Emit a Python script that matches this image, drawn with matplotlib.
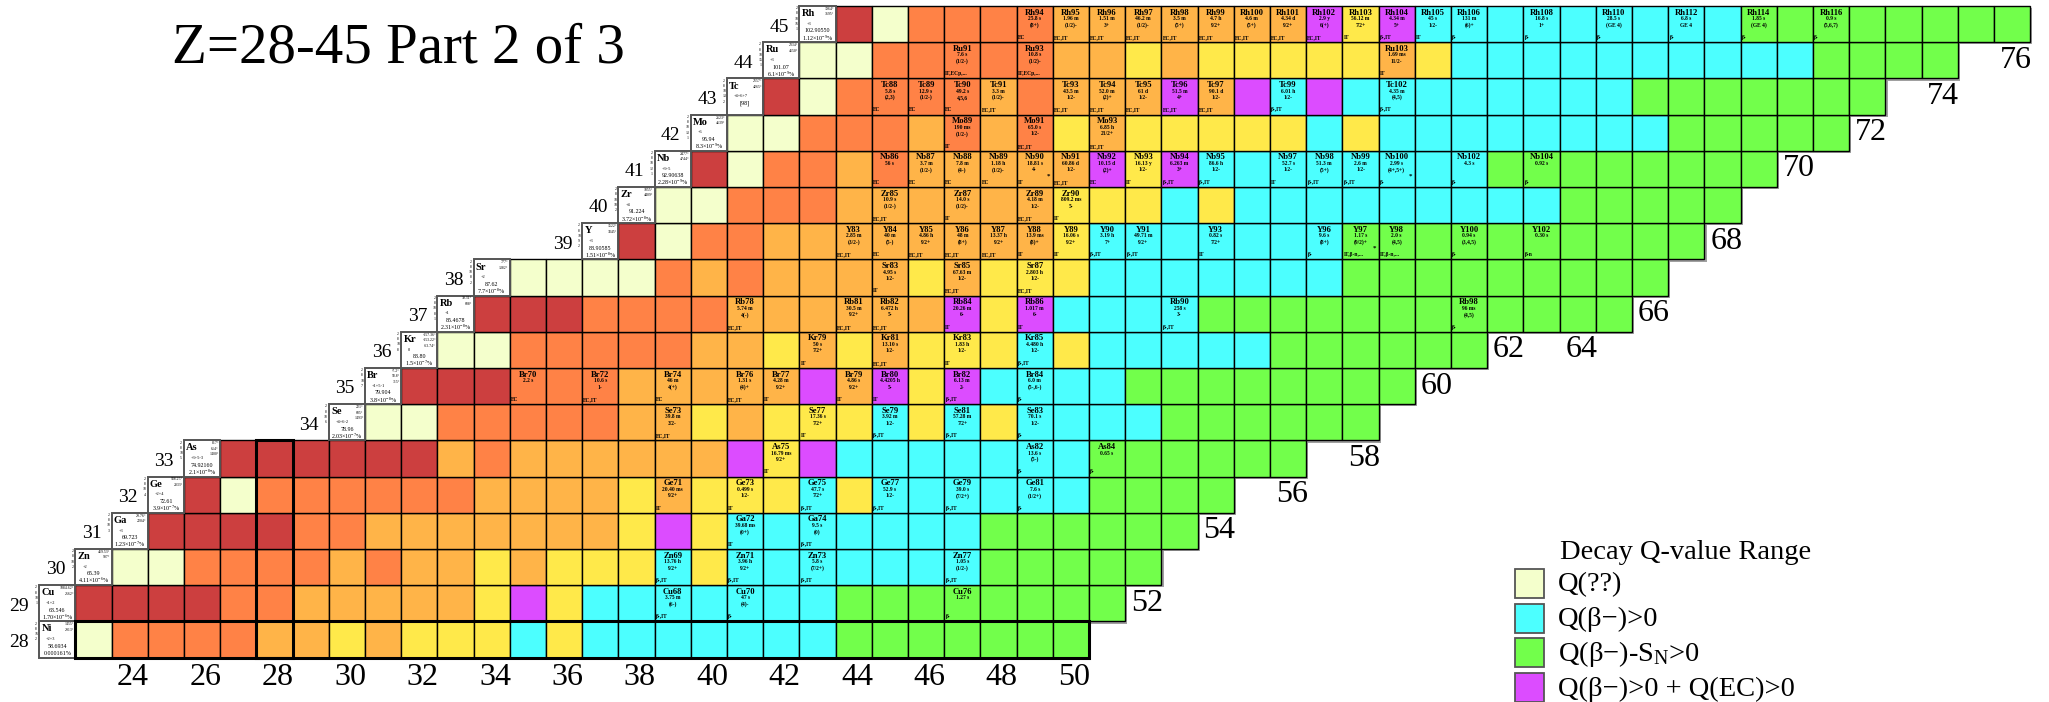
import matplotlib
matplotlib.use('Agg')
import matplotlib.pyplot as plt
from matplotlib.patches import Rectangle

plt.rcParams['font.family'] = ['Liberation Serif', 'DejaVu Serif']
plt.rcParams['mathtext.fontset'] = 'custom'
plt.rcParams['mathtext.rm'] = 'Liberation Serif'
plt.rcParams['mathtext.it'] = 'Liberation Serif:italic'
plt.rcParams['mathtext.bf'] = 'Liberation Serif:bold'

# %% data: one row per element (Z), cells start right after the element box
z_values = list(range(28, 46))
symbols = ['Ni', 'Cu', 'Zn', 'Ga', 'Ge', 'As', 'Se', 'Br', 'Kr',
           'Rb', 'Sr', 'Y', 'Zr', 'Nb', 'Mo', 'Tc', 'Ru', 'Rh']
box_n = [22, 22, 23, 24, 25, 26, 30, 31, 32, 33, 34, 37, 38, 39, 40, 41, 42, 43]
row_end = [50, 51, 52, 53, 54, 56, 58, 59, 61, 65, 66, 67, 68, 69, 71, 72, 74, 76]

# decay Q-value class of every cell, one letter per neutron number (spaces ignored)
# u=Q(??)  r/o/l/y=proton side classes  c=Q(b-)>0  g=Q(b-)-Sn>0  m=Q(b-)>0+Q(EC)>0
row_codes = [
    'u oooo ll y l yyy c y ccccccc ggggggg',            # Ni
    'rrrr oo lllll y m y ccccccc gggggggg',             # Cu
    'uu oooo l o ll y l yyy c y ccccccc ggggg',         # Zn
    'rrrr oo lllllll y m y ccccccc gggggg',             # Ga
    'r u oooooo llll y l yyy c y cccccc gggg',          # Ge
    'rrrrrr l o llllll m y m ccccccc gggggg',           # As
    'uu ooooo ll y l yyy c y c y cccc gggggg',          # Se
    'rrr ooo lllll m l m y m cccc gggggggg',            # Br
    'uu ooooo ll y l y l yyy c y ccccc gggggg',         # Kr
    'rrr oooo llllll m y m cccc gggggggggggg',          # Rb
    'uuuu o l o llll y l yyy ccccccc ggggggggg',        # Sr
    'r u oo llllllll y ccccccc gggggggggg',             # Y
    'uu ooo llllll yyy c y ccccccccc ggggg',            # Zr
    'r u oo l o lllll m y m cccccccc gggggggg',         # Nb
    'uu ooo l o l o y l yyyyy c y cccccccc ggggg',      # Mo
    'r u oooo l o lll m l m c m cccccccc ggggggg',      # Tc
    'uu ooooo ll y l yyyyy l y cccccccccc gggg',        # Ru
    'r u oooo lllllll m y m ccccccccc gggggggg',        # Rh
]

shells = ['2 8 16 2', '2 8 18 1', '2 8 18 2', '2 8 18 3', '2 8 18 4', '2 8 18 5',
          '2 8 18 6', '2 8 18 7', '2 8 18 8', '2 8 18 8 1', '2 8 18 8 2',
          '2 8 18 9 2', '2 8 18 10 2', '2 8 18 12 1', '2 8 18 13 1',
          '2 8 18 13 2', '2 8 18 15 1', '2 8 18 16 1']
temps = ['1455°|2913°', '1084.62°|2562°', '419.53°|907°', '29.76°|2204°',
         '938.25°|2833°', '817°|614°|1400°', '221°|685°|1493°', '-7.2°|58.8°|315°',
         '-157.36°|-153.22°|-63.74°', '39.31°|688°', '777°|1382°', '1522°|3345°',
         '1855°|4409°', '2477°|4744°', '2623°|4639°', '2157°|4265°', '2334°|4150°',
         '1964°|3695°']
oxidation = ['+2+3', '+1+2', '+2', '+3', '+2+4', '+3+5-3', '+4+6-2', '+1+5-1', '0',
             '+1', '+2', '+3', '+4', '+3+5', '+6', '+4+6+7', '+3', '+3']
weights = ['58.6934', '63.546', '65.39', '69.723', '72.61', '74.92160', '78.96',
           '79.904', '83.80', '85.4678', '87.62', '88.90585', '91.224', '92.90638',
           '95.94', '[98]', '101.07', '102.90550']
abundance = [r'0.000161%', r'1.70$\times$10$^{-6}$%', r'4.11$\times$10$^{-6}$%',
             r'1.23$\times$10$^{-7}$%', r'3.9$\times$10$^{-7}$%', r'2.1$\times$10$^{-8}$%',
             r'2.03$\times$10$^{-7}$%', r'3.8$\times$10$^{-8}$%', r'1.5$\times$10$^{-7}$%',
             r'2.31$\times$10$^{-8}$%', r'7.7$\times$10$^{-8}$%', r'1.51$\times$10$^{-8}$%',
             r'3.72$\times$10$^{-8}$%', r'2.28$\times$10$^{-9}$%', r'8.3$\times$10$^{-9}$%',
             '', r'6.1$\times$10$^{-9}$%', r'1.12$\times$10$^{-9}$%']

# isomer cells: name, half-life, spin, decay mode
isomer_cells = [
    ('Cu68', '3.75 m', '(6-)', 'β-,IT'), ('Cu70', '47 s', '(4)-', 'β-'), ('Cu76', '1.27 s', '', 'β-'),
    ('Zn69', '13.76 h', '9/2+', 'β-,IT'), ('Zn71', '3.96 h', '9/2+', 'β-,IT'),
    ('Zn73', '5.8 s', '(7/2+)', 'β-,IT'), ('Zn77', '1.05 s', '(1/2-)', 'β-,IT'),
    ('Ga72', '39.68 ms', '(0+)', 'IT'), ('Ga74', '9.5 s', '(0)', 'β-,IT'),
    ('Ge71', '20.40 ms', '9/2+', 'IT'), ('Ge73', '0.499 s', '1/2-', 'IT'),
    ('Ge75', '47.7 s', '7/2+', 'β-,IT'), ('Ge77', '52.9 s', '1/2-', 'β-,IT'),
    ('Ge79', '39.0 s', '(7/2+)', 'β-,IT'), ('Ge81', '7.6 s', '(1/2+)', 'β-'),
    ('As75', '16.79 ms', '9/2+', 'IT'), ('As82', '13.6 s', '(5-)', 'β-'), ('As84', '0.65 s', '', 'β-'),
    ('Se73', '39.8 m', '3/2-', 'EC,IT'), ('Se77', '17.36 s', '7/2+', 'IT'),
    ('Se79', '3.92 m', '1/2-', 'β-,IT'), ('Se81', '57.28 m', '7/2+', 'β-,IT'),
    ('Se83', '70.1 s', '1/2-', 'β-'),
    ('Br70', '2.2 s', '', 'EC'), ('Br72', '10.6 s', '1-', 'EC,IT'), ('Br74', '46 m', '4(+)', 'EC'),
    ('Br76', '1.31 s', '(4)+', 'EC,IT'), ('Br77', '4.28 m', '9/2+', 'IT'),
    ('Br79', '4.86 s', '9/2+', 'IT'), ('Br80', '4.4205 h', '5-', 'IT'),
    ('Br82', '6.13 m', '2-', 'β-,IT'), ('Br84', '6.0 m', '(5-,6-)', 'β-'),
    ('Kr79', '50 s', '7/2+', 'IT'), ('Kr81', '13.10 s', '1/2-', 'EC,IT'),
    ('Kr83', '1.83 h', '1/2-', 'IT'), ('Kr85', '4.480 h', '1/2-', 'β-,IT'),
    ('Rb78', '5.74 m', '4(-)', 'EC,IT'), ('Rb81', '30.5 m', '9/2+', 'EC,IT'),
    ('Rb82', '6.472 h', '5-', 'EC,IT'), ('Rb84', '20.26 m', '6-', 'IT'),
    ('Rb86', '1.017 m', '6-', 'IT'), ('Rb90', '258 s', '3-', 'β-,IT'), ('Rb98', '96 ms', '(4,5)', 'β-'),
    ('Sr83', '4.95 s', '1/2-', 'IT'), ('Sr85', '67.63 m', '1/2-', 'EC,IT'),
    ('Sr87', '2.803 h', '1/2-', 'EC,IT'),
    ('Y83', '2.85 m', '(3/2-)', 'EC,IT'), ('Y84', '40 m', '(5-)', 'EC'),
    ('Y85', '4.86 h', '9/2+', 'EC,IT'), ('Y86', '48 m', '(8+)', 'EC,IT'),
    ('Y87', '13.37 h', '9/2+', 'EC,IT'), ('Y88', '13.9 ms', '(8)+', 'IT'),
    ('Y89', '16.06 s', '9/2+', 'IT'), ('Y90', '3.19 h', '7+', 'β-,IT'),
    ('Y91', '49.71 m', '9/2+', 'β-,IT'), ('Y93', '0.82 s', '7/2+', 'IT'),
    ('Y96', '9.6 s', '(8+)', 'β-'), ('Y97', '1.17 s', '(9/2)+', 'IT,β-n,...'),
    ('Y98', '2.0 s', '(4,5)', 'IT,β-n,...'), ('Y100', '0.94 s', '(3,4,5)', 'β-'),
    ('Y102', '0.30 s', '', 'β-n'),
    ('Zr85', '10.9 s', '(1/2-)', 'EC,IT'), ('Zr87', '14.0 s', '(1/2)-', 'IT'),
    ('Zr89', '4.18 m', '1/2-', 'EC,IT'), ('Zr90', '809.2 ms', '5-', 'IT'),
    ('Nb86', '56 s', '', 'EC'), ('Nb87', '3.7 m', '(1/2-)', 'EC'), ('Nb88', '7.8 m', '(4-)', 'EC'),
    ('Nb89', '1.18 h', '(1/2)-', 'EC'), ('Nb90', '18.81 s', '4-', 'IT'),
    ('Nb91', '60.86 d', '1/2-', 'EC,IT'), ('Nb92', '10.15 d', '(2)+', 'EC'),
    ('Nb93', '16.13 y', '1/2-', 'IT'), ('Nb94', '6.263 m', '3+', 'β-,IT'),
    ('Nb95', '86.6 h', '1/2-', 'β-,IT'), ('Nb97', '52.7 s', '1/2-', 'IT'),
    ('Nb98', '51.3 m', '(5+)', 'β-,IT'), ('Nb99', '2.6 m', '1/2-', 'β-,IT'),
    ('Nb100', '2.99 s', '(4+,5+)', 'β-'), ('Nb102', '4.3 s', '', 'β-'), ('Nb104', '0.92 s', '', 'β-'),
    ('Mo89', '190 ms', '(1/2-)', 'IT'), ('Mo91', '65.0 s', '1/2-', 'EC,IT'),
    ('Mo93', '6.85 h', '21/2+', 'EC,IT'),
    ('Tc88', '5.8 s', '(2,3)', 'EC'), ('Tc89', '12.9 s', '(1/2-)', 'EC'), ('Tc90', '49.2 s', '4,5,6', 'EC'),
    ('Tc91', '3.3 m', '(1/2)-', 'EC,IT'), ('Tc93', '43.5 m', '1/2-', 'EC,IT'),
    ('Tc94', '52.0 m', '(2)+', 'EC,IT'), ('Tc95', '61 d', '1/2-', 'EC,IT'),
    ('Tc96', '51.5 m', '4+', 'EC,IT'), ('Tc97', '90.1 d', '1/2-', 'EC,IT'),
    ('Tc99', '6.01 h', '1/2-', 'β-,IT'), ('Tc102', '4.35 m', '(4,5)', 'β-,IT'),
    ('Ru91', '7.6 s', '(1/2-)', 'IT,ECp,...'), ('Ru93', '10.8 s', '(1/2)-', 'IT,ECp,...'),
    ('Ru103', '1.69 ms', '11/2-', 'IT'),
    ('Rh94', '25.8 s', '(8+)', 'EC'), ('Rh95', '1.96 m', '(1/2)-', 'EC,IT'),
    ('Rh96', '1.51 m', '3+', 'EC,IT'), ('Rh97', '46.2 m', '(1/2)-', 'EC,IT'),
    ('Rh98', '3.5 m', '(5+)', 'EC,IT'), ('Rh99', '4.7 h', '9/2+', 'EC,IT'),
    ('Rh100', '4.6 m', '(5+)', 'EC,IT'), ('Rh101', '4.34 d', '9/2+', 'EC,IT'),
    ('Rh102', '2.9 y', '6(+)', 'EC,IT'), ('Rh103', '56.12 m', '7/2+', 'IT'),
    ('Rh104', '4.34 m', '5+', 'β-,IT'), ('Rh105', '45 s', '1/2-', 'IT'),
    ('Rh106', '131 m', '(6)+', 'β-'), ('Rh108', '16.8 s', '1+', 'β-'),
    ('Rh110', '28.5 s', '(GE 4)', 'β-'), ('Rh112', '6.8 s', 'GE 4', 'β-'),
    ('Rh114', '1.85 s', '(GE 4)', 'β-'), ('Rh116', '0.9 s', '(5,6,7)', 'β-'),
]
starred = ['Nb90', 'Nb100', 'Y97']

n_ticks = list(range(24, 51, 2))
edge_labels = [(52, 29), (54, 31), (56, 32), (58, 33), (60, 35), (62, 36), (64, 36),
               (66, 37), (68, 39), (70, 41), (72, 42), (74, 43), (76, 44)]

legend_title = 'Decay Q-value Range'
legend_codes = ['u', 'c', 'g', 'm']
legend_labels = ['Q(??)', 'Q(β−)>0', r'Q(β−)-S$_\mathrm{N}$>0', 'Q(β−)>0 + Q(EC)>0']

palette = {'u': '#F4FFCC', 'r': '#CC3F3F', 'o': '#FF8246', 'l': '#FFB448',
           'y': '#FFE94A', 'c': '#4CFFFF', 'g': '#72FF4B', 'm': '#DC4CFF'}

# %% figure
fig = plt.figure(figsize=(20.49, 7.02), dpi=100)
ax = fig.add_axes([0, 0, 1, 1])
ax.set_xlim(20.417, 77.019)
ax.set_ylim(26.273, 45.666)
ax.axis('off')

row_span = {}
for z, n0, n_last, codes in zip(z_values, box_n, row_end, row_codes):
    codes = codes.replace(' ', '')
    n_start = n0 + 1
    assert n_start + len(codes) - 1 == n_last, (z, len(codes))
    row_span[z] = (n_start, n_last)
    # drop shadow of the row
    ax.add_patch(Rectangle((n_start - 0.5 + 0.06, z - 0.5 - 0.06), len(codes), 1,
                           fc='#a0a0a0', ec='none', zorder=1))
    for i, code in enumerate(codes):
        ax.add_patch(Rectangle((n_start + i - 0.5, z - 0.5), 1, 1, fc=palette[code],
                               ec='black', lw=1.0, zorder=2))

# element boxes
for k, z in enumerate(z_values):
    n0 = box_n[k]
    ax.add_patch(Rectangle((n0 - 0.5 + 0.05, z - 0.5 - 0.05), 1, 1, fc='#a0a0a0', ec='none', zorder=1))
    ax.add_patch(Rectangle((n0 - 0.5, z - 0.5), 1, 1, fc='white', ec='#555555', lw=1.4, zorder=3))
    ax.text(n0 - 0.44, z + 0.29, symbols[k], fontsize=7.5, fontweight='bold',
            ha='left', va='center', zorder=5)
    for j, t in enumerate(temps[k].split('|')):
        ax.text(n0 + 0.46, z + 0.42 - 0.15 * j, t, fontsize=2.8, ha='right', va='center', zorder=5)
    ax.text(n0 - 0.31, z + 0.01, oxidation[k], fontsize=3.2, ha='left', va='center', zorder=5)
    ax.text(n0, z - 0.19, weights[k], fontsize=4.3, ha='center', va='center', zorder=5)
    if abundance[k]:
        ax.text(n0, z - 0.38, abundance[k], fontsize=4.3, ha='center', va='center', zorder=5)
    for j, s in enumerate(shells[k].split()):
        ax.text(n0 - 0.58, z + 0.44 - 0.145 * j, s, fontsize=2.8, ha='center', va='center', zorder=5)
    ax.text(n0 - 0.78, z - 0.08, str(z), fontsize=14, ha='right', va='center', zorder=5)

# isomer text
sym_to_z = dict(zip(symbols, z_values))
for name, half, spin, mode in isomer_cells:
    sym = name.rstrip('0123456789')
    z = sym_to_z[sym]
    n = int(name[len(sym):]) - z
    ax.text(n, z + 0.32, name, fontsize=6.2, fontweight='bold', ha='center', va='center', zorder=5)
    ax.text(n, z + 0.15, half, fontsize=4.0, fontweight='bold', ha='center', va='center', zorder=5)
    if spin:
        ax.text(n, z - 0.03, spin, fontsize=4.0, fontweight='bold', ha='center', va='center', zorder=5)
    ax.text(n - 0.47, z - 0.37, mode, fontsize=4.0, fontweight='bold', ha='left', va='center', zorder=5)
    if name in starred:
        ax.text(n + 0.38, z - 0.2, '*', fontsize=5, fontweight='bold', ha='center', va='center', zorder=5)

# magic number outlines
magic = 28
n_a, n_b = row_span[magic]
ax.add_patch(Rectangle((n_a - 0.5, magic - 0.5), n_b - n_a + 1, 1, fill=False,
                       ec='black', lw=2.2, zorder=4))
col_z = [z for z in z_values if row_span[z][0] <= magic <= row_span[z][1]]
ax.add_patch(Rectangle((magic - 0.5, min(col_z) - 0.5), 1, len(col_z), fill=False,
                       ec='black', lw=2.2, zorder=4))

# neutron number labels
for n in n_ticks:
    ax.text(n + 0.09, 26.94, str(n), fontsize=23, ha='center', va='center')
for n, z in edge_labels:
    ax.text(n + 0.1, z, str(n), fontsize=23, ha='center', va='center')

ax.text(25.17, 43.93, 'Z=28-45 Part 2 of 3', fontsize=41, ha='left', va='baseline')

# legend
def px_n(x):
    return 28 + (x - 274.5) / 36.2

def px_z(y):
    return 45 - (y - 24.1) / 36.2

ax.text(px_n(1560), px_z(553), legend_title, fontsize=20.5, ha='left', va='center')
for i, (code, lab) in enumerate(zip(legend_codes, legend_labels)):
    top = 569 + 34.7 * i
    ax.add_patch(Rectangle((px_n(1515), px_z(top + 29)), 29 / 36.2, 29 / 36.2,
                           fc=palette[code], ec='#555555', lw=1.3, zorder=3))
    ax.text(px_n(1558), px_z(top + 16), lab, fontsize=20.5, ha='left', va='center')

fig.savefig('out.png', dpi=100)
